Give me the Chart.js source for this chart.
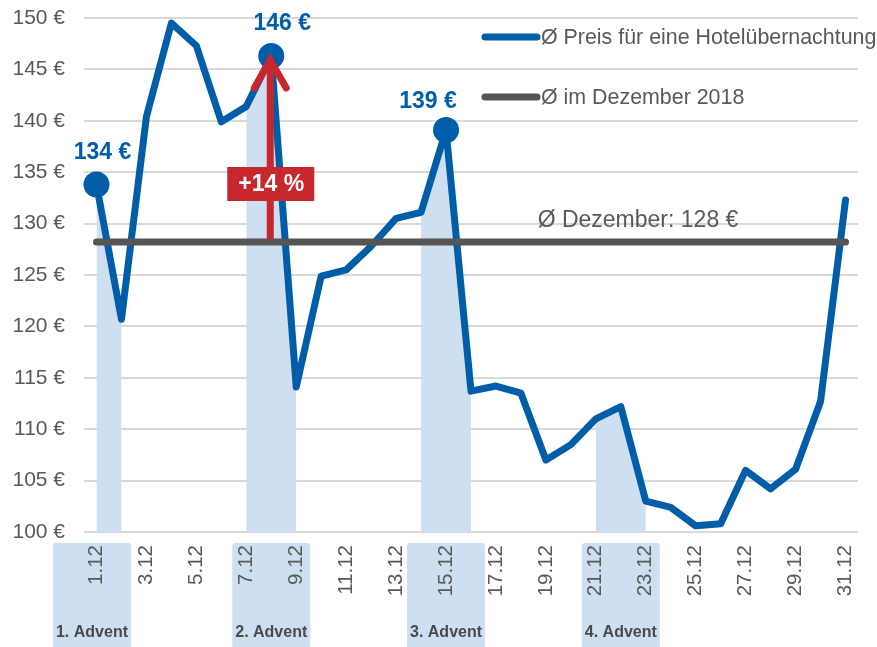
<!DOCTYPE html>
<html lang="de">
<head>
<meta charset="utf-8">
<title>Hotelpreise Dezember 2018</title>
<script src="https://cdn.jsdelivr.net/npm/chart.js@4.4.1/dist/chart.umd.min.js"></script>
<style>
  html, body { margin: 0; padding: 0; background: #fff; }
  #wrap { width: 877px; height: 647px; }
</style>
</head>
<body>
<div id="wrap"><canvas id="priceChart" width="877" height="647"></canvas></div>
<script>
// Daten
const days = ['1.12', '2.12', '3.12', '4.12', '5.12', '6.12', '7.12', '8.12', '9.12', '10.12',
  '11.12', '12.12', '13.12', '14.12', '15.12', '16.12', '17.12', '18.12', '19.12', '20.12',
  '21.12', '22.12', '23.12', '24.12', '25.12', '26.12', '27.12', '28.12', '29.12', '30.12', '31.12'];
const prices = [133.8, 120.7, 140.4, 149.5, 147.3, 139.9, 141.4, 146.3, 114.1, 124.9,
  125.5, 127.8, 130.5, 131.1, 139.1, 113.7, 114.2, 113.5, 107.0, 108.5,
  111.0, 112.2, 103.0, 102.4, 100.6, 100.8, 106.0, 104.2, 106.1, 112.7, 132.3];
const decemberAvg = 128.2;
const yTicks = [100, 105, 110, 115, 120, 125, 130, 135, 140, 145, 150];
const adventSundays = ['1.12', '8.12', '15.12', '22.12'];
const adventNames = ['1. Advent', '2. Advent', '3. Advent', '4. Advent'];
const adventShade = [['1.12', '2.12'], ['7.12', '9.12'], ['14.12', '16.12'], ['21.12', '23.12']];
const labelledDays = ['1.12', '8.12', '15.12'];
const increaseDay = '8.12';
const increaseText = '+14 %';
const seriesNames = ['Ø Preis für eine Hotelübernachtung', 'Ø im Dezember 2018'];

const BLUE = '#005ea8';
const GREY = '#555555';
const SHADE = '#cddff0';
const RED = '#c6282e';
const TEXT = '#595959';
const FONT = '"Liberation Sans", Arial, sans-serif';

const idx = d => days.indexOf(d);
const inShade = i => adventShade.some(([a, b]) => i >= idx(a) && i <= idx(b));

// Beschriftungen, Pfeil, Legende
const decor = {
  id: 'decor',
  beforeDraw(chart) {
    const { ctx, chartArea, scales: { x } } = chart;
    const shift = [-4.5, 0, 0, 0];
    ctx.save();
    ctx.fillStyle = SHADE;
    adventSundays.forEach((d, i) => {
      const cx = x.getPixelForValue(idx(d)) + shift[i];
      ctx.beginPath();
      ctx.roundRect(cx - 39, chartArea.bottom + 11, 78, chart.height - chartArea.bottom, 3);
      ctx.fill();
    });
    ctx.fillStyle = '#4a4a4a';
    ctx.font = 'bold 16px ' + FONT;
    ctx.textAlign = 'center';
    ctx.textBaseline = 'middle';
    adventSundays.forEach((d, i) => {
      ctx.fillText(adventNames[i], x.getPixelForValue(idx(d)) + shift[i], chart.height - 14);
    });
    ctx.restore();
  },
  afterDatasetsDraw(chart) {
    const { ctx, scales: { x, y } } = chart;
    ctx.save();

    // Werte an den Punkten
    const offsets = [[6, -32], [11, -32], [-18, -28]];
    ctx.fillStyle = BLUE;
    ctx.font = 'bold 23px ' + FONT;
    ctx.textAlign = 'center';
    ctx.textBaseline = 'middle';
    labelledDays.forEach((d, i) => {
      const v = prices[idx(d)];
      ctx.fillText(Math.round(v) + ' €', x.getPixelForValue(idx(d)) + offsets[i][0], y.getPixelForValue(v) + offsets[i][1]);
    });

    // Durchschnitt
    ctx.fillStyle = TEXT;
    ctx.font = '23px ' + FONT;
    ctx.fillText('Ø Dezember: ' + Math.round(decemberAvg) + ' €', 638, y.getPixelForValue(decemberAvg) - 21);

    // Pfeil
    const ax = x.getPixelForValue(idx(increaseDay)) - 1;
    const yTop = y.getPixelForValue(prices[idx(increaseDay)]) + 4;
    const yBot = y.getPixelForValue(decemberAvg) - 3;
    ctx.strokeStyle = RED;
    ctx.lineWidth = 7;
    ctx.beginPath();
    ctx.moveTo(ax, yBot);
    ctx.lineTo(ax, yTop + 3);
    ctx.stroke();
    ctx.lineCap = 'round';
    ctx.lineJoin = 'miter';
    ctx.beginPath();
    ctx.moveTo(ax - 16, yTop + 28);
    ctx.lineTo(ax, yTop);
    ctx.lineTo(ax + 16, yTop + 28);
    ctx.stroke();

    ctx.fillStyle = RED;
    ctx.fillRect(ax - 43, 167, 87, 34);
    ctx.fillStyle = '#ffffff';
    ctx.font = 'bold 23px ' + FONT;
    ctx.fillText(increaseText, ax + 1, 185);

    // Legende
    const colors = [BLUE, GREY];
    ctx.font = '21.4px ' + FONT;
    ctx.textAlign = 'left';
    seriesNames.forEach((name, i) => {
      const ly = 37 + i * 60;
      ctx.strokeStyle = colors[i];
      ctx.lineWidth = 7;
      ctx.lineCap = 'round';
      ctx.beginPath();
      ctx.moveTo(485, ly);
      ctx.lineTo(537, ly);
      ctx.stroke();
      ctx.fillStyle = TEXT;
      ctx.fillText(name, 541, ly + 1);
    });
    ctx.restore();
  }
};

new Chart(document.getElementById('priceChart'), {
  type: 'line',
  data: {
    labels: days,
    datasets: [
      {
        label: seriesNames[1],
        data: days.map(() => decemberAvg),
        borderColor: GREY,
        borderWidth: 7,
        borderCapStyle: 'round',
        pointRadius: 0
      },
      {
        label: seriesNames[0],
        data: prices,
        borderColor: BLUE,
        borderWidth: 7,
        borderJoinStyle: 'round',
        borderCapStyle: 'round',
        tension: 0,
        pointRadius: days.map(d => labelledDays.includes(d) ? 13 : 0),
        pointBackgroundColor: BLUE,
        pointBorderWidth: 0,
        pointHoverRadius: 0
      },
      {
        label: 'Advent',
        data: prices.map((v, i) => inShade(i) ? v : null),
        borderWidth: 0,
        borderColor: 'rgba(0,0,0,0)',
        backgroundColor: SHADE,
        fill: 'start',
        spanGaps: false,
        pointRadius: 0
      }
    ]
  },
  options: {
    responsive: false,
    animation: false,
    layout: { padding: { top: 18, right: 19, left: 0, bottom: 0 } },
    plugins: {
      legend: { display: false },
      tooltip: { enabled: false }
    },
    scales: {
      x: {
        offset: true,
        grid: { display: false, drawTicks: false },
        border: { display: false },
        afterFit: s => { s.height = 115; s.paddingLeft = 0; s.paddingRight = 0; },
        ticks: {
          autoSkip: false,
          minRotation: 90,
          maxRotation: 90,
          padding: 13,
          color: TEXT,
          font: { family: FONT, size: 20.5 },
          callback: (v, i) => i % 2 === 0 ? days[i] : ''
        }
      },
      y: {
        min: yTicks[0],
        max: yTicks[yTicks.length - 1],
        afterBuildTicks: s => { s.ticks = yTicks.map(v => ({ value: v })); },
        afterFit: s => { s.width = 84; s.paddingTop = 0; s.paddingBottom = 0; },
        grid: { color: '#d9d9d9', lineWidth: 2, drawTicks: false },
        border: { display: false },
        ticks: {
          padding: 19,
          color: TEXT,
          font: { family: FONT, size: 21 },
          callback: v => v + ' €'
        }
      }
    }
  },
  plugins: [decor]
});
</script>
</body>
</html>
